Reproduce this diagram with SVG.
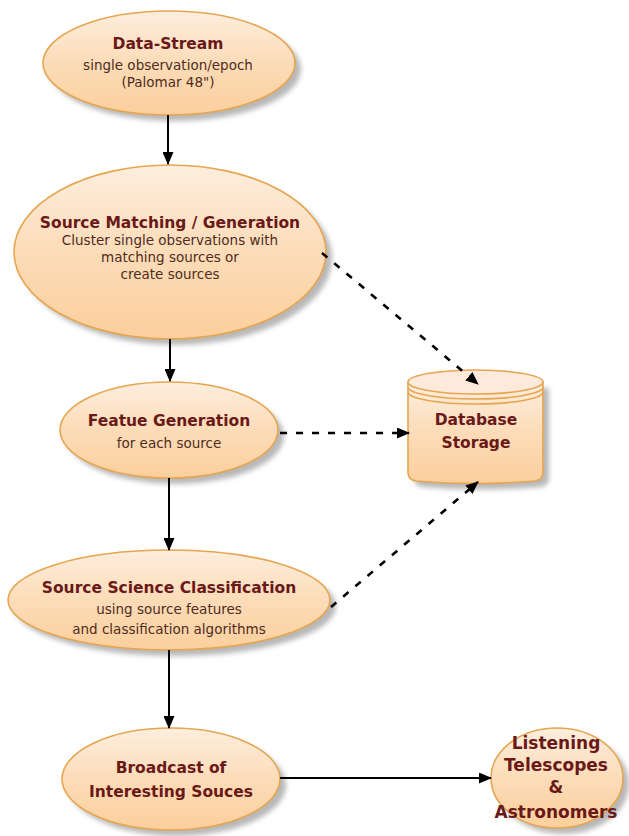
<svg xmlns="http://www.w3.org/2000/svg" width="629" height="836" viewBox="0 0 629 836">
<style>
.node{fill:url(#g);stroke:#e6a550;stroke-width:1.6}
.sh{fill:#b8b8b8;filter:url(#blur)}
.t{font-family:"DejaVu Sans",Verdana,sans-serif;font-weight:bold;font-size:15.5px;fill:#6a1818;text-anchor:middle}
.s{font-family:"DejaVu Sans",Verdana,sans-serif;font-size:13.5px;fill:#4f2c1e;text-anchor:middle}
.solid{stroke:#000;stroke-width:2;fill:none}
.dash{stroke:#000;stroke-width:2.6;fill:none;stroke-dasharray:7 9}
</style>
<defs>
<linearGradient id="g" x1="0" y1="0" x2="0" y2="1">
<stop offset="0" stop-color="#fdeede"/>
<stop offset="0.5" stop-color="#fcdcb8"/>
<stop offset="1" stop-color="#fbcf9c"/>
</linearGradient>
<filter id="blur" x="-20%" y="-20%" width="140%" height="140%"><feGaussianBlur stdDeviation="2.5"/></filter>
<marker id="ah" markerWidth="13" markerHeight="11" refX="12" refY="5.5" orient="auto" markerUnits="userSpaceOnUse">
<path d="M0,0 L13,5.5 L0,11 Z" fill="#000"/>
</marker>
</defs>

<g id="data-stream">
<ellipse class="sh" cx="175" cy="69" rx="126" ry="52"/>
<ellipse class="node" cx="169" cy="63" rx="126" ry="52"/>
<text class="t" x="168" y="49">Data-Stream</text>
<text class="s" x="168" y="70">single observation/epoch</text>
<text class="s" x="168" y="87">(Palomar 48")</text>
</g>

<g id="source-matching">
<ellipse class="sh" cx="176" cy="258" rx="156" ry="87"/>
<ellipse class="node" cx="170" cy="252" rx="156" ry="87"/>
<text class="t" x="170" y="228">Source Matching / Generation</text>
<text class="s" x="170" y="245">Cluster single observations with</text>
<text class="s" x="170" y="262">matching sources or</text>
<text class="s" x="170" y="279">create sources</text>
</g>

<g id="feature-generation">
<ellipse class="sh" cx="175" cy="436" rx="109" ry="48"/>
<ellipse class="node" cx="169" cy="430" rx="109" ry="48"/>
<text class="t" x="169" y="426">Featue Generation</text>
<text class="s" x="169" y="448">for each source</text>
</g>

<g id="source-science">
<ellipse class="sh" cx="175" cy="606" rx="161" ry="50"/>
<ellipse class="node" cx="169" cy="600" rx="161" ry="50"/>
<text class="t" x="169" y="593">Source Science Classification</text>
<text class="s" x="169" y="614">using source features</text>
<text class="s" x="169" y="634">and classification algorithms</text>
</g>

<g id="broadcast">
<ellipse class="sh" cx="177" cy="785" rx="109" ry="51"/>
<ellipse class="node" cx="171" cy="779" rx="109" ry="51"/>
<text class="t" x="171" y="773">Broadcast of</text>
<text class="t" x="171" y="797">Interesting Souces</text>
</g>

<g id="listening">
<ellipse class="sh" cx="563" cy="784" rx="66" ry="50"/>
<ellipse class="node" cx="557" cy="778" rx="66" ry="50"/>
<text class="t" x="556" y="749" style="font-size:17px">Listening</text>
<text class="t" x="556" y="771" style="font-size:17px">Telescopes</text>
<text class="t" x="556" y="793" style="font-size:17px">&amp;</text>
<text class="t" x="556" y="818" style="font-size:17px">Astronomers</text>
</g>

<g id="database">
<path class="sh" d="M414,388 L414,478 Q414,486 422,487 Q481,492 541,487 Q549,486 549,478 L549,388 Z"/>
<path class="node" d="M408,382 L408,472 Q408,480 416,481 Q475,486 535,481 Q543,480 543,472 L543,382 Z"/>
<ellipse cx="475.5" cy="382" rx="67.5" ry="12" fill="#fdeadb" stroke="#e6a550" stroke-width="1.6"/>
<path d="M408,387 A67.5,12 0 0 0 543,387" fill="none" stroke="#e6a550" stroke-width="1.6"/>
<path d="M408,392 A67.5,12 0 0 0 543,392" fill="none" stroke="#e6a550" stroke-width="1.6"/>
<text class="t" x="476" y="425">Database</text>
<text class="t" x="476" y="448">Storage</text>
</g>

<g id="connectors">
<line class="solid" x1="168" y1="115" x2="168" y2="164" marker-end="url(#ah)"/>
<line class="solid" x1="170" y1="339" x2="170" y2="381" marker-end="url(#ah)"/>
<line class="solid" x1="169" y1="478" x2="169" y2="550" marker-end="url(#ah)"/>
<line class="solid" x1="169" y1="650" x2="169" y2="728" marker-end="url(#ah)"/>
<line class="solid" x1="280" y1="778" x2="491" y2="778" marker-end="url(#ah)"/>
<line class="dash" x1="322" y1="253" x2="478" y2="384" marker-end="url(#ah)"/>
<line class="dash" x1="280" y1="433" x2="409" y2="433" marker-end="url(#ah)"/>
<line class="dash" x1="331" y1="607" x2="478" y2="482" marker-end="url(#ah)"/>
</g>
</svg>
